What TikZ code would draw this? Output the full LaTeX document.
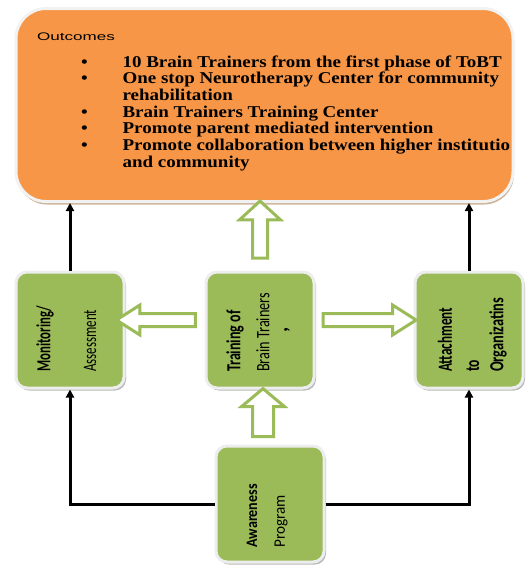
\documentclass[tikz,border=0pt]{standalone}
\usepackage{fontspec}
\setmainfont{Liberation Serif}
\newfontfamily\boxfont{Carlito}
\newfontfamily\outfont{Liberation Sans}
\usetikzlibrary{shapes.arrows,shadows,arrows.meta,calc}
\definecolor{orangefill}{HTML}{F79646}
\definecolor{greenfill}{HTML}{9BBB59}
\newcommand{\cz}[2]{\scalebox{#1}[1]{#2}}
\begin{document}
\begin{tikzpicture}[x=1pt,y=-1pt,
  outbox/.style={rectangle, rounded corners=30pt, fill=orangefill, draw=white!95!black,
    line width=3pt, minimum width=497pt, minimum height=193pt,
    drop shadow={shadow xshift=1pt, shadow yshift=-3pt, fill=brown!80!black, opacity=0.5}},
  gbox/.style={rectangle, rounded corners=11pt, fill=greenfill, draw=white!93!black,
    line width=3pt, minimum width=108pt, minimum height=116pt,
    drop shadow={shadow xshift=2pt, shadow yshift=-2.5pt, fill=black!45, opacity=0.6}},
  hollow/.style={single arrow, draw=greenfill, fill=white, line width=3pt,
    single arrow head indent=0pt, outer sep=0pt},
  hupper/.style={hollow, inner ysep=0pt, inner xsep=6pt, single arrow head extend=13pt, single arrow tip angle=95},
  hside/.style={hollow, inner xsep=0pt, inner ysep=5pt, single arrow head extend=8.5pt, single arrow tip angle=65},
  hlower/.style={hollow, inner ysep=0pt, inner xsep=9pt, single arrow head extend=11pt, single arrow tip angle=100},
  blk/.style={line width=3pt, draw=black, -{Triangle[length=8pt,width=8pt]}},
  btxt/.style={rotate=90, anchor=west, inner sep=0pt, font=\boxfont\bfseries\fontsize{20}{20}\selectfont},
  rtxt/.style={rotate=90, anchor=west, inner sep=0pt, font=\boxfont\fontsize{19}{19}\selectfont},
]
\useasboundingbox (0,0) rectangle (529,566);

% boxes
\node[outbox] (out) at (264.5,105) {};
\node[gbox] (mon) at (70,330) {};
\node[gbox] (train) at (260,330) {};
\node[gbox] (att) at (469,330) {};
\node[gbox] (aw) at (270,504) {};

% outcomes text
\node[anchor=base west, inner sep=0pt, font=\outfont\fontsize{11}{13}\selectfont] (otitle) at (37,40) {\cz{1.55}{Outcomes}};
\node[anchor=base west, inner sep=0pt, font=\bfseries\fontsize{16.5}{16.7}\selectfont] (olist) at (81,67)
{\cz{1.15}{\begin{tabular}[t]{@{}p{36pt}@{}l@{}}
\textbullet & 10 Brain Trainers from the first phase of ToBT\\
\textbullet & One stop Neurotherapy Center for community\\
 & rehabilitation\\
\textbullet & Brain Trainers Training Center\\
\textbullet & Promote parent mediated intervention\\
\textbullet & Promote collaboration between higher institutio\\
 & and community
\end{tabular}}};

% box texts
\node[btxt] (m1) at (45,372) {\cz{0.64}{Monitoring/}};
\node[rtxt] (m2) at (90,372) {\cz{0.68}{Assessment}};
\node[btxt] (t1) at (235,372) {\cz{0.70}{Training of}};
\node[rtxt] (t2) at (263,372) {\cz{0.75}{Brain Trainers}};
\node[btxt] (t3) at (287,333) {,};
\node[btxt] (a1) at (445,372) {\cz{0.66}{Attachment}};
\node[btxt] (a2) at (473,372) {\cz{0.68}{to}};
\node[btxt] (a3) at (498,372) {\cz{0.72}{Organizatins}};
\node[btxt, font=\boxfont\bfseries\fontsize{16}{16}\selectfont] (w1) at (252,548) {\cz{0.88}{Awareness}};
\node[rtxt, font=\boxfont\fontsize{16}{16}\selectfont] (w2) at (281,548) {\cz{0.95}{Program}};

% black connectors
\draw[blk] (mon.north) -- (mon.north |- out.south);
\draw[blk] (att.north) -- (att.north |- out.south);
\draw[blk] (aw.west) -| (mon.south);
\draw[blk] (aw.east) -| (att.south);

% hollow green arrows
\node[hupper, minimum height=57pt, shape border rotate=90] (up1) at ($(train.north)+(0,-37.5)$) {};
\node[hside, minimum height=79pt, shape border rotate=180] (lf) at ($(mon.east)!0.5!(train.west)+(-4,-10)$) {};
\node[hside, minimum height=93pt, shape border rotate=0] (rt) at ($(train.east)!0.5!(att.west)+(0,-10)$) {};
\node[hlower, minimum height=48pt, shape border rotate=90] (up2) at ($(aw.north)!0.5!(train.south)+(-2,0)$) {};
\end{tikzpicture}
\end{document}
